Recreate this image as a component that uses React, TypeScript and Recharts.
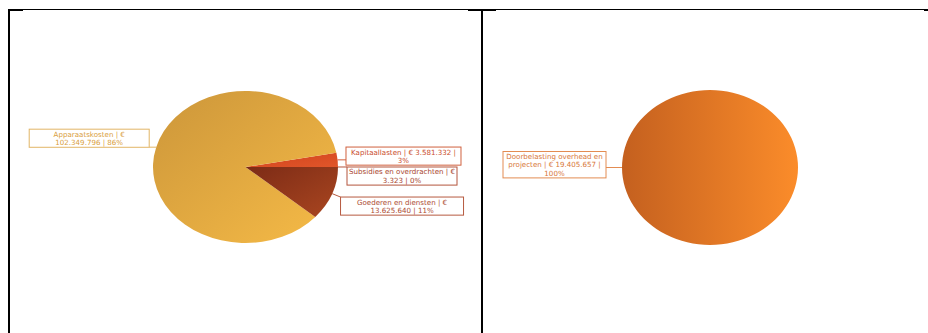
import React from 'react';
import { PieChart, Pie, Cell } from 'recharts';

// Begroting - lasten per categorie (links) en doorbelasting (rechts)
const LEFT_NAMES = ['Subsidies en overdrachten', 'Kapitaallasten', 'Apparaatskosten', 'Goederen en diensten'];
const LEFT_VALUES = [3323, 3581332, 102349796, 13625640];
const RIGHT_NAMES = ['Doorbelasting overhead en projecten'];
const RIGHT_VALUES = [19405657];

const leftData = LEFT_NAMES.map((name, i) => ({ name, value: LEFT_VALUES[i] }));
const rightData = RIGHT_NAMES.map((name, i) => ({ name, value: RIGHT_VALUES[i] }));

// styling
const LEFT_FILLS = ['url(#gSub)', 'url(#gKap)', 'url(#gApp)', 'url(#gGoed)'];
const LEFT_TEXT = ['#a8452e', '#c94b2b', '#d9a040', '#ad4c33'];
const LEFT_BORDER = ['#b4553c', '#d0603e', '#e2b566', '#b65a40'];
const RIGHT_TEXT = ['#d8783a'];
const RIGHT_BORDER = ['#e38c52'];

// label box placement relative to the anchor on the pie edge
const LEFT_LAYOUT = [
  { side: 'right', gap: 9, dy: 0, w: 110 },
  { side: 'right', gap: 8.4, dy: -12.8, w: 115 },
  { side: 'left', gap: 7, dy: -18, w: 120 },
  { side: 'right', gap: 8.4, dy: 3.4, w: 123 },
];
const RIGHT_LAYOUT = [{ side: 'left', gap: 16, dy: -16, w: 103 }];

const FONT_SIZE = 7.1;
const FONT = `${FONT_SIZE}px "DejaVu Sans"`;
const LINE_H = 8.3;

let ctx: CanvasRenderingContext2D | null = null;
const measure = (s: string) => {
  if (!ctx) ctx = document.createElement('canvas').getContext('2d');
  ctx!.font = FONT;
  return ctx!.measureText(s).width;
};

const wrap = (text: string, maxW: number) => {
  const words = text.split(' ');
  const lines: string[] = [];
  let cur = '';
  words.forEach((w) => {
    const next = cur ? cur + ' ' + w : w;
    if (cur && measure(next) > maxW) {
      lines.push(cur);
      cur = w;
    } else cur = next;
  });
  if (cur) lines.push(cur);
  return lines;
};

const fmt = (v: number) => String(v).replace(/\B(?=(\d{3})+(?!\d))/g, '.');

const makeLabel = (opts: any) => (props: any) => {
  const { cx, cy, midAngle, outerRadius, index, percent, value } = props;
  const name = props.payload?.name ?? props.name;
  const rad = (-midAngle * Math.PI) / 180;
  const ax = cx + outerRadius * Math.cos(rad);
  const ay = cy + outerRadius * opts.squash * Math.sin(rad);
  const lines = wrap(`${name} | € ${fmt(value)} | ${Math.round(percent * 100)}%`, opts.wrap);
  const lay = opts.layout[index];
  const w = lay.w;
  const h = lines.length * LINE_H + 1.5;
  const x = lay.side === 'right' ? ax + lay.gap : ax - lay.gap - w;
  const y = ay + lay.dy;
  const ex = lay.side === 'right' ? x : x + w;
  const ey = Math.min(Math.max(ay, y), y + h);
  return (
    <g key={`lbl-${index}`}>
      <line x1={ax} y1={ay} x2={ex} y2={ey} stroke={opts.border[index]} strokeWidth={1} />
      <rect x={x} y={y} width={w} height={h} fill="#fff" stroke={opts.border[index]} strokeWidth={1} />
      {lines.map((ln, i) => (
        <text
          key={i}
          x={x + w / 2}
          y={y + (i + 1) * LINE_H - 0.8}
          textAnchor="middle"
          fontFamily='"DejaVu Sans", sans-serif'
          fontSize={FONT_SIZE}
          fill={opts.text[index]}
        >
          {ln}
        </text>
      ))}
    </g>
  );
};

const NO_MARGIN = { top: 0, right: 0, bottom: 0, left: 0 };
const L = { cx: 235.5, cy: 156, r: 92.5, squash: 76 / 92.5 };
const R = { cx: 226, cy: 156.5, r: 88, squash: 77.5 / 88 };

const css = `
.pie-left .recharts-sector { transform-box: view-box; transform-origin: ${L.cx}px ${L.cy}px; transform: scaleY(${L.squash}); }
.pie-right .recharts-sector { transform-box: view-box; transform-origin: ${R.cx}px ${R.cy}px; transform: scaleY(${R.squash}); }
`;

const line = (left: number, top: number, width: number, height: number) => (
  <div style={{ position: 'absolute', left, top, width, height, background: '#000' }} />
);

export default function App() {
  return (
    <div style={{ position: 'fixed', left: 0, top: 0, width: 928, height: 333, background: '#fff', overflow: 'hidden' }}>
      <style>{css}</style>
      {line(8, 9, 916, 1)}
      {line(8, 9, 15, 2)}
      {line(8, 9, 2, 324)}
      {line(481, 9, 2, 324)}
      {line(468, 9, 28, 2)}
      {line(924, 9, 4, 2)}

      <div className="pie-left" style={{ position: 'absolute', left: 10, top: 11 }}>
        <PieChart width={470} height={322} margin={NO_MARGIN}>
          <defs>
            <linearGradient id="gApp" x1="0" y1="0" x2="1" y2="1">
              <stop offset="0%" stopColor="#cc963a" />
              <stop offset="100%" stopColor="#f6bb47" />
            </linearGradient>
            <linearGradient id="gKap" x1="0" y1="0" x2="1" y2="1">
              <stop offset="0%" stopColor="#d2431c" />
              <stop offset="100%" stopColor="#e0562a" />
            </linearGradient>
            <linearGradient id="gSub" x1="0" y1="0" x2="1" y2="1">
              <stop offset="0%" stopColor="#8a3018" />
              <stop offset="100%" stopColor="#a03a20" />
            </linearGradient>
            <linearGradient id="gGoed" x1="0" y1="0" x2="1" y2="1">
              <stop offset="0%" stopColor="#7c2b16" />
              <stop offset="100%" stopColor="#aa4620" />
            </linearGradient>
          </defs>
          <Pie
            data={leftData}
            dataKey="value"
            nameKey="name"
            cx={L.cx}
            cy={L.cy}
            outerRadius={L.r}
            startAngle={0}
            endAngle={360}
            stroke="none"
            isAnimationActive={false}
            labelLine={false}
            label={makeLabel({ squash: L.squash, wrap: 115, layout: LEFT_LAYOUT, text: LEFT_TEXT, border: LEFT_BORDER })}
          >
            {leftData.map((d, i) => (
              <Cell key={d.name} fill={LEFT_FILLS[i]} />
            ))}
          </Pie>
        </PieChart>
      </div>

      <div className="pie-right" style={{ position: 'absolute', left: 484, top: 11 }}>
        <PieChart width={442} height={322} margin={NO_MARGIN}>
          <defs>
            <linearGradient id="gDoor" x1="0" y1="0" x2="1" y2="0">
              <stop offset="0%" stopColor="#c4601f" />
              <stop offset="100%" stopColor="#fb8c2a" />
            </linearGradient>
          </defs>
          <Pie
            data={rightData}
            dataKey="value"
            nameKey="name"
            cx={R.cx}
            cy={R.cy}
            outerRadius={R.r}
            startAngle={0}
            endAngle={360}
            stroke="none"
            isAnimationActive={false}
            labelLine={false}
            label={makeLabel({ squash: R.squash, wrap: 105, layout: RIGHT_LAYOUT, text: RIGHT_TEXT, border: RIGHT_BORDER })}
          >
            {rightData.map((d) => (
              <Cell key={d.name} fill="url(#gDoor)" />
            ))}
          </Pie>
        </PieChart>
      </div>
    </div>
  );
}
